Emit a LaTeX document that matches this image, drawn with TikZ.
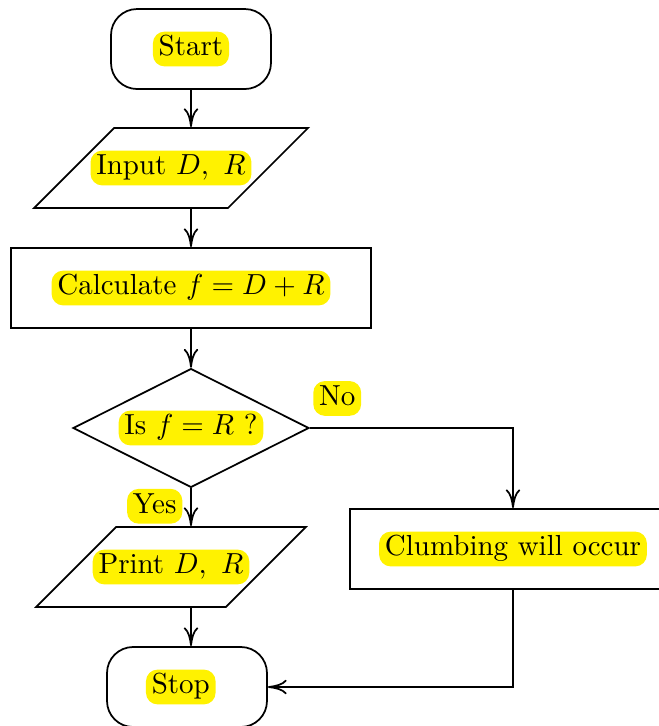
\documentclass[tikz,border=0pt]{standalone}
\usepackage{amsmath}
\usetikzlibrary{shapes.geometric, arrows.meta}

\tikzset{
  hlbox/.style={rectangle, draw=none, fill=yellow, rounded corners=4pt,
    minimum width=0pt, minimum height=0pt, inner xsep=2pt, inner ysep=0pt, anchor=center},
  every block/.style={draw, semithick, minimum height=27.6pt, inner sep=0pt},
  terminal/.style={every block, rectangle, rounded corners=9pt, minimum width=55.2pt},
  io/.style={every block, trapezium, trapezium left angle=45, trapezium right angle=135,
    minimum height=0pt, inner xsep=-8.1pt, inner ysep=7.8pt},
  process/.style={every block, rectangle},
  decision/.style={every block, diamond, aspect=2, minimum width=81.4pt, minimum height=41pt},
  line/.style={semithick, ->}
}
\newcommand{\hl}[1]{\tikz[baseline=(h.base)]\node[hlbox](h){\strut#1};}

\begin{document}
\begin{tikzpicture}[x=0.345pt, y=-0.345pt,
  >={Computer Modern Rightarrow[length=6.5pt, width=5pt]}]

\useasboundingbox (0,0) rectangle (659,726);
\clip (0,0) rectangle (659,726);

% blocks
\node [terminal] (start) at (191,49) {\hl{Start}};
\node [io] (input) at (171,168) {\hl{Input $D,~R$}};
\node [process, minimum width=124.2pt] (calc) at (191,288) {\hl{Calculate $f=D+R$}};
\node [decision] (decide) at (191,428) {\hl{Is $f=R$ ?}};
\node [io] (print) at (171,567) {\hl{Print $D,~R$}};
\node [process, minimum width=112.5pt] (clumb) at (513,549) {\hl{Clumbing will occur}};
\node [terminal] (stop) at (187,687) {\hspace*{-4.3pt}\hl{Stop}};

% arrows
\draw [line] (start) -- (start |- input.north);
\draw [line] (calc |- input.south) -- (calc);
\draw [line] (calc) -- (decide);
\draw [line] (decide.south) -- (decide.south |- print.north)
  node [pos=0, below left, inner xsep=2.8pt, inner ysep=0pt] {\hl{Yes}};
\draw [line] (decide.east) -| (clumb)
  node [pos=0, above right, inner xsep=1pt, inner ysep=4pt] {\hl{No}};
\draw [line] (calc |- print.south) -- (calc |- stop.north);
\draw [line] (clumb) |- (stop);

\end{tikzpicture}
\end{document}
